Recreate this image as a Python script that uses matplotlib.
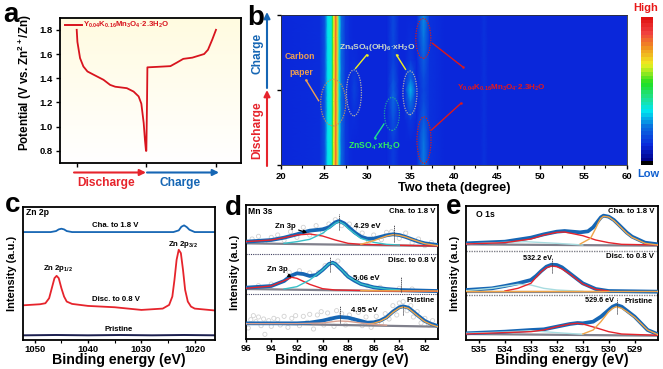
import matplotlib
matplotlib.use("Agg")
import matplotlib.pyplot as plt
import numpy as np
from matplotlib.colors import LinearSegmentedColormap
from matplotlib.patches import Ellipse

W, H = 663, 369
plt.rcParams['font.family'] = ['Liberation Sans', 'DejaVu Sans']
plt.rcParams['font.weight'] = 'bold'
plt.rcParams['axes.labelweight'] = 'bold'
plt.rcParams['mathtext.default'] = 'regular'

BLUE = '#1666b4'
RED = '#e6242c'
CYAN = '#38c0c8'
ORANGE = '#f0a548'
GREY = '#80808c'
TAN = '#d8a090'

# panel a
a_x = [0, .01, .048, .096, .154, .24, .385, .48, .553, .72, .817, .889, .928, .962, .98, .995, 1.0,
       1.01, 1.015, 1.154, 1.346, 1.44, 1.53, 1.66, 1.83, 1.885, 1.947, 2.0]
a_v = [1.8, 1.70, 1.566, 1.497, 1.456, 1.43, 1.387, 1.345, 1.33, 1.318, 1.29, 1.25, 1.19, 1.03, .89, .8, .8,
       1.22, 1.49, 1.494, 1.50, 1.53, 1.56, 1.57, 1.60, 1.635, 1.72, 1.8]
a_yticks = [0.8, 1.0, 1.2, 1.4, 1.6, 1.8]

# panel b
theta = [20, 24.5, 25.1, 25.4, 25.55, 25.85, 26.0, 26.15, 26.35, 26.54, 26.77, 27.0, 27.5, 28.0, 28.5, 29.2,
         32.3, 33.0, 33.7, 34.3, 35.0, 35.7, 36.5, 37.2, 38.0, 39.0, 43.0, 43.5, 44.0, 60]
base = [.12, .13, .2, .34, .37, .38, .52, .68, .85, .72, .38, .24, .15, .125, .12, .12,
        .12, .17, .12, .12, .12, .12, .2, .14, .13, .12, .12, .14, .12, .12]
row_y = [0, 0.3, 0.6, 0.85, 1.0, 1.15, 1.4, 1.7, 2.0]
band_285 = [.12, .12, .13, .16, .17, .16, .13, .12, .12]
band_330 = [.16, .16, .2, .24, .22, .2, .17, .18, .18]
band_350 = [.12, .12, .15, .26, .32, .24, .15, .13, .12]
band_365 = [.26, .26, .22, .19, .18, .19, .22, .26, .28]
b_colors = ['#000000', '#000080', '#0a28dc', '#0a70e0', '#00e8f0', '#20e090', '#20e020',
            '#f0f020', '#f09020', '#f04040', '#e01010']
b_stops = [0, .01, .12, .25, .36, .45, .55, .68, .8, .9, 1]

# panel c
c_cha_x = [1052, 1047, 1046, 1045.5, 1045, 1044.5, 1044, 1043, 1030, 1024, 1023, 1022.5, 1022, 1021.5, 1021, 1020, 1016]
c_cha = [323, 323, 326, 331, 333, 331, 326, 323, 323, 323, 328, 339, 343, 338, 330, 323, 323]
c_dis_x = [1052, 1049, 1048, 1047.3, 1046.8, 1046.3, 1045.9, 1045.5, 1045, 1044.5, 1044, 1043, 1040, 1035, 1030,
           1026, 1024.8, 1024.2, 1023.8, 1023.4, 1023, 1022.6, 1022.2, 1021.8, 1021.3, 1020.7, 1020, 1016]
c_dis = [104, 107, 110, 125, 155, 185, 192, 185, 155, 130, 115, 108, 102, 98, 90,
         94, 105, 130, 180, 240, 270, 260, 210, 150, 115, 100, 94, 88]
c_pri_x = [1052, 1046, 1040, 1034, 1028, 1022, 1016]
c_pri = [14, 15, 14, 15, 14, 15, 14]

# panel d, charged
d1_x = [96, 94, 93, 92, 91.5, 91, 90.5, 90, 89.5, 89.2, 89, 88.7, 88.3, 88, 87.5, 87, 86.5, 86, 85.5, 85, 84.5, 84, 83.5, 83, 82.5, 82, 81]
d1_sum = [292, 297, 304, 314, 320, 325, 327, 329, 335, 344, 350, 354, 347, 337, 320, 307, 301, 301, 306, 311, 314, 312, 306, 299, 292, 287, 282]
d1_red_x = [96, 94, 93, 92, 91, 90, 89, 88, 87, 85, 81]
d1_red = [292, 297, 304, 312, 315, 309, 297, 287, 284, 282, 279]
d1_cyan_x = [93, 92, 91, 90, 89.5, 89, 88.7, 88.3, 88, 87, 86, 85, 84]
d1_cyan = [287, 292, 299, 317, 332, 347, 352, 344, 332, 302, 290, 284, 282]
d1_or_x = [87, 86, 85, 84.5, 84, 83.5, 83, 82, 81]
d1_or = [284, 295, 309, 313, 311, 306, 299, 286, 280]
d1_bg = [287, 279]
d1_pts_x = [95.5, 95, 94.5, 94, 93.5, 93, 92.5, 92, 91.5, 91, 90.5, 90, 89.5, 89, 88.5, 87.9, 87.5, 86.9, 86.4, 86, 85.4, 85, 84.6, 84, 83.5, 83, 82.5, 82, 81.5]
d1_pts = [300, 308, 292, 305, 312, 296, 322, 305, 335, 312, 340, 322, 345, 358, 340, 345, 330, 318, 292, 312, 298, 320, 322, 302, 318, 288, 300, 280, 290]

# panel d, discharged
d2_x = [96, 94, 93, 92.5, 92, 91.5, 91, 90.5, 90, 89.5, 89.2, 89, 88.5, 88, 87.5, 87, 86, 85, 84, 82, 81]
d2_sum = [154, 159, 174, 189, 197, 195, 189, 192, 207, 225, 229, 225, 207, 187, 175, 165, 155, 150, 147, 145, 144]
d2_red_x = [96, 94, 93, 92.4, 92, 91, 90, 89, 85, 81]
d2_red = [152, 159, 175, 185, 182, 164, 151, 147, 144, 143]
d2_cyan_x = [93, 92, 91, 90, 89.5, 89.2, 89, 88.5, 88, 87, 86, 85, 84]
d2_cyan = [150, 157, 177, 207, 225, 229, 225, 207, 187, 165, 155, 150, 147]
d2_or_x = [87, 81]
d2_or = [145, 144]
d2_bg = [150, 142]
d2_pts_x = [95, 94, 92.6, 91.8, 91, 90.3, 89.8, 88.8, 88.2, 87.3, 86.5, 85.5, 84, 83]
d2_pts = [160, 165, 200, 205, 198, 200, 220, 234, 196, 180, 160, 155, 152, 150]

# panel d, pristine
d3_x = [96, 92, 91, 90, 89, 88.7, 88, 87.3, 86.5, 86, 85.5, 85, 84.5, 84, 83.7, 83.3, 83, 82.5, 82, 81.5, 81]
d3_sum = [47, 47, 49, 55, 64, 66, 64, 57, 49, 50, 55, 65, 82, 95, 98, 94, 85, 69, 54, 45, 39]
d3_or_x = [86.5, 86, 85.5, 85, 84.5, 84, 83.7, 83.3, 83, 82.5, 82, 81.5, 81]
d3_or = [45, 47, 53, 63, 80, 93, 96, 92, 83, 67, 52, 43, 37]
d3_tan_x = [96, 92, 90, 89, 88.7, 88, 87, 86, 85]
d3_tan = [46, 46, 48, 53, 54, 53, 48, 44, 41]
d3_bg = [47, 37]
d3_pts_x = [95.8, 95.6, 95.4, 95.2, 95.0, 94.8, 94.6, 94.5, 94.2, 94.0, 93.8, 93.5, 93.3, 93.0, 92.7, 92.4, 92.1, 91.8,
            91.5, 91.2, 91.0, 90.7, 90.4, 90.1, 89.9, 89.6, 89.4, 89.1, 88.9, 88.5, 88.2, 87.9, 87.6, 87.2, 86.9, 86.6,
            86.2, 85.8, 85.4, 85.1, 84.8, 84.5, 84.2, 84.0, 83.7, 83.4, 83.1, 82.9, 82.6, 82.3, 82.0, 81.7, 81.4]
d3_pts = [33, 58, 70, 52, 66, 40, 60, 14, 55, 38, 62, 58, 42, 68, 35, 62, 70, 40,
          68, 50, 74, 30, 72, 82, 42, 78, 60, 38, 85, 76, 42, 72, 58, 80, 40, 66,
          35, 68, 48, 76, 60, 100, 72, 108, 112, 85, 100, 66, 82, 48, 62, 42, 55]

# panel e, charged
e1_x = [535.5, 534, 533, 532.5, 532, 531.7, 531.1, 530.8, 530.6, 530.4, 530.3, 530.2, 530.0, 529.8, 529.6, 529.3, 529.1, 528.6, 528.1]
e1_sum = [290, 295, 307, 317, 325, 327, 323, 326, 338, 358, 368, 373, 370, 360, 345, 322, 310, 292, 287]
e1_red_x = [535.5, 534, 533, 532.5, 532, 531.7, 531, 530.5, 530, 529.5, 528.1]
e1_red = [288, 292, 303, 315, 323, 324, 313, 300, 292, 287, 285]
e1_or_x = [531.1, 530.7, 530.5, 530.4, 530.3, 530.2, 530, 529.8, 529.6, 529.3, 529.1, 528.6, 528.1]
e1_or = [288, 305, 335, 352, 365, 371, 369, 358, 343, 320, 308, 290, 285]
e1_cy_x = [535.5, 534, 533.2, 532.5, 532, 531]
e1_cy = [288, 293, 295, 292, 290, 285]
e1_bg = [287, 283]

# panel e, discharged
e2_x = [535.5, 534.5, 534, 533.5, 533, 532.8, 532.6, 532.4, 532.2, 532, 531.8, 531.5, 531, 530.5, 530, 528.1]
e2_sum = [150, 155, 162, 170, 180, 192, 207, 220, 226, 225, 218, 200, 170, 153, 147, 145]
e2_red_x = [534, 533.5, 533, 532.8, 532.6, 532.4, 532.2, 532, 531.8, 531.5, 531, 530.5, 530]
e2_red = [147, 155, 170, 188, 205, 217, 222, 220, 213, 198, 168, 152, 147]
e2_cy_x = [535.5, 534.5, 533.5, 533, 532.5, 532, 531]
e2_cy = [148, 155, 167, 165, 155, 150, 146]
e2_or = [147, 147]
e2_bg = [145, 145]

# panel e, pristine
e3_x = [535.5, 534, 533, 532.5, 532, 531.5, 531.2, 531, 530.6, 530.3, 530, 529.85, 529.7, 529.5, 529.3, 529, 528.5, 528.1]
e3_sum = [20, 25, 30, 32, 40, 48, 51, 50, 55, 70, 90, 100, 105, 100, 88, 70, 30, 17]
e3_red_x = [535.5, 533, 532.5, 532, 531.5, 531.2, 531, 530.5, 530, 529.5, 528.1]
e3_red = [18, 25, 30, 40, 48, 50, 48, 37, 25, 18, 14]
e3_or_x = [531, 530.6, 530.3, 530, 529.85, 529.7, 529.5, 529.3, 529, 528.5, 528.1]
e3_or = [18, 30, 55, 85, 95, 100, 95, 85, 68, 30, 16]
e3_cy_x = [535.5, 534, 533, 532, 531]
e3_cy = [20, 24, 28, 22, 17]
e3_bg = [18, 13]

fig = plt.figure(figsize=(W / 100, H / 100), dpi=100, facecolor='white')


def px_axes(l, t, r, b):
    ax = fig.add_axes([l / W, 1 - b / H, (r - l) / W, (b - t) / H])
    for s in ax.spines.values():
        s.set_linewidth(1.3)
    ax.tick_params(width=1, length=3, labelsize=6.8, pad=2)
    ax.tick_params(which='minor', width=.8, length=2)
    return ax


def fig_text(x, y, s, **kw):
    kw.setdefault('ha', 'center')
    kw.setdefault('va', 'center')
    fig.text(x / W, 1 - y / H, s, **kw)


def fig_arrow(x0, y0, x1, y1, color):
    fig.add_artist(plt.Annotation('', xy=(x1 / W, 1 - y1 / H), xytext=(x0 / W, 1 - y0 / H),
                                  xycoords='figure fraction', textcoords='figure fraction',
                                  arrowprops=dict(arrowstyle='-|>', color=color, lw=1.5, shrinkA=0, shrinkB=0,
                                                  mutation_scale=9)))


def dash(ax, x, i0, i1):
    ax.plot([x, x], [i0, i1], color='#404048', lw=.7, ls=(0, (1.2, .8)), zorder=6)


def xps(ax, x_sum, y_sum, parts, bg_x, bg):
    ax.plot(bg_x, bg, color=GREY, lw=1.6, zorder=2)
    ax.plot(x_sum, y_sum, color=BLUE, lw=2.7, zorder=3)
    for x, y, c in parts:
        ax.plot(x, y, color=c, lw=1.0, zorder=4)


def int_labels(ax, label_x, l, t, r, b):
    # label_x is the right edge of the rotated text, the x label top sits at y=353
    ax.tick_params(axis='x', length=2.5, pad=1)
    ax.set_xlabel('Binding energy (eV)', fontsize=10.2)
    ax.xaxis.set_label_coords(.5, (b - 353) / (b - t))
    ax.set_ylabel('Intensity (a.u.)', fontsize=7.9)
    ax.yaxis.set_label_coords((label_x - l) / (r - l), .5)


for lab, x, y in [('a', 3, 22), ('b', 247, 25), ('c', 5, 212), ('d', 225, 215), ('e', 446, 214)]:
    fig_text(x, y, lab, fontsize=20, color='black', ha='left', va='baseline')

# a
ax = px_axes(60, 17.7, 240.7, 163)
ax.imshow(np.linspace(0, 1, 60)[:, None], extent=[0, 1, 0, 1], transform=ax.transAxes, aspect='auto', zorder=0,
          cmap=LinearSegmentedColormap.from_list('bgfade', ['#fffbe0', '#ffffff']))
ax.plot(a_x, a_v, color='#d8141e', lw=1.3, zorder=3)
ax.set_xlim(-.24, 2.355)
ax.set_ylim(.70, 1.90)
ax.set_xticks([0, 1, 2])
ax.set_xticklabels([])
ax.set_yticks(a_yticks)
ax.set_yticklabels(['%.1f' % v for v in a_yticks])
ax.set_ylabel('Potential (V vs. Zn$^{2+}$/Zn)', fontsize=8.4)
ax.yaxis.set_label_coords((34 - 60) / 180.7, .55)
ax.plot([-.17, .08], [1.84, 1.84], color='#d8141e', lw=1.4, zorder=3)
ax.text(.09, 1.84, 'Y$_{0.04}$K$_{0.16}$Mn$_{3}$O$_{4}$·2.3H$_{2}$O', color='#d8141e', fontsize=5.6, va='center')
fig_arrow(74, 172.5, 146, 172.5, RED)
fig_arrow(147, 172.5, 219, 172.5, BLUE)
fig_text(106.5, 183, 'Discharge', color=RED, fontsize=8.6)
fig_text(180.5, 183, 'Charge', color=BLUE, fontsize=8.6)

# b
ax = px_axes(280.7, 14.7, 627, 165)
grid = np.tile(base, (len(row_y), 1))
grid[:, theta.index(28.5)] = band_285
grid[:, theta.index(33.0)] = band_330
grid[:, theta.index(35.0)] = band_350
grid[:, theta.index(36.5)] = band_365
cmap_b = LinearSegmentedColormap.from_list('xrd', list(zip(b_stops, b_colors)))
ax.pcolormesh(theta, row_y, grid, cmap=cmap_b, vmin=0, vmax=1, shading='gouraud')
ax.set_xlim(20, 60)
ax.set_ylim(0, 2)
ax.set_xticks(range(20, 61, 5))
ax.set_xticks(np.arange(22.5, 60, 5), minor=True)
ax.set_yticks([0, 1, 2])
ax.set_yticklabels([])
for s in ax.spines.values():
    s.set_linewidth(.6)
    s.set_color('#303030')
ax.set_xlabel('Two theta (degree)', fontsize=9.2, labelpad=1)
for cx, cy, w, h, c in [(36.47, 1.685, 1.73, .53, '#d02020'), (36.55, .33, 1.62, .62, '#d02020'),
                        (26.07, .83, 2.9, .62, '#b89060'), (28.46, .96, 1.73, .61, '#b0b0a8'),
                        (34.93, .96, 1.62, .58, '#b0b0a8'), (32.85, .68, 1.73, .44, '#20a0a0')]:
    ax.add_patch(Ellipse((cx, cy), w, h, fill=False, edgecolor=c, lw=.9, ls=(0, (1, 1))))
# leader lines, the dot sits on the label end
for x0, y0, x1, y1, c in [(28.65, 1.286, 29.92, 1.463, '#f0f020'), (34.42, 1.273, 33.38, 1.463, '#f0f020'),
                          (31.92, .545, 30.88, .364, '#20e090'), (24.38, .856, 22.92, 1.13, '#f0a050'),
                          (37.54, 1.619, 41.0, 1.308, '#e01818'), (37.42, .466, 40.81, .82, '#e01818')]:
    ax.plot([x0, x1], [y0, y1], color=c, lw=1)
    ax.plot([x1], [y1], 'o', color=c, ms=1.8, mew=0)
ax.text(22.23, 1.45, 'Carbon', color='#f0a050', fontsize=6.2, ha='center', va='center')
ax.text(22.35, 1.23, 'paper', color='#f0a050', fontsize=6.2, ha='center', va='center')
ax.text(31.19, 1.56, 'Zn$_4$SO$_4$(OH)$_6$·xH$_2$O', color='#d0dcc8', fontsize=6, ha='center', va='center')
ax.text(30.8, .25, 'ZnSO$_4$·xH$_2$O', color='#30f060', fontsize=6.2, ha='center', va='center')
ax.text(45.5, 1.03, 'Y$_{0.04}$K$_{0.16}$Mn$_{3}$O$_{4}$·2.3H$_{2}$O', color='#e81818', fontsize=5.8,
        ha='center', va='center')
fig_arrow(267, 88, 267, 12, BLUE)
fig_arrow(267, 166, 267, 90, RED)
fig_text(257, 53, 'Charge', color=BLUE, fontsize=8.6, rotation=90)
fig_text(257, 130, 'Discharge', color=RED, fontsize=8.6, rotation=90)

# colour bar of b
cax = fig.add_axes([641 / W, 1 - 165 / H, 12 / W, 148 / H])
cax.imshow(np.linspace(1, 0, 40)[:, None], cmap=cmap_b, vmin=0, vmax=1, aspect='auto')
cax.axis('off')
fig_text(646, 8, 'High', color='#e81818', fontsize=8)
fig_text(648, 174, 'Low', color='#1060d0', fontsize=8)

# c
ax = px_axes(23, 207, 215, 340)
ax.plot(c_cha_x, c_cha, color=BLUE, lw=1.3)
ax.plot(c_dis_x, c_dis, color=RED, lw=1.3)
ax.plot(c_pri_x, c_pri, color='#1c2050', lw=1.4)
ax.set_xlim(1052.2, 1016.2)
ax.set_ylim(0, 398)
ax.set_yticks([])
ax.set_xticks([1050, 1040, 1030, 1020])
ax.set_xticks([1045, 1035, 1025], minor=True)
int_labels(ax, 17, 23, 207, 215, 340)
ax.text(1051.7, 382, 'Zn 2p', fontsize=6.2, va='center')
ax.text(1035, 343, 'Cha. to 1.8 V', fontsize=5.6, ha='center', va='center')
ax.text(1034.8, 120, 'Disc. to 0.8 V', fontsize=5.6, ha='center', va='center')
ax.text(1034.2, 32, 'Pristine', fontsize=5.6, ha='center', va='center')
ax.text(1045.6, 213, 'Zn 2p$_{1/2}$', fontsize=5.6, ha='center', va='center')
ax.text(1022.1, 285, 'Zn 2p$_{3/2}$', fontsize=5.6, ha='center', va='center')

# d
ax = px_axes(245.7, 205, 437.7, 339)
ax.scatter(d1_pts_x + d2_pts_x + d3_pts_x, d1_pts + d2_pts + d3_pts, s=9, facecolors='none',
           edgecolors='#d2d2d2', linewidths=.6, zorder=1)
xps(ax, d1_x, d1_sum, [(d1_red_x, d1_red, RED), (d1_cyan_x, d1_cyan, CYAN), (d1_or_x, d1_or, ORANGE)], [96, 81], d1_bg)
xps(ax, d2_x, d2_sum, [(d2_red_x, d2_red, RED), (d2_cyan_x, d2_cyan, CYAN), (d2_or_x, d2_or, ORANGE)], [96, 81], d2_bg)
xps(ax, d3_x, d3_sum, [(d3_or_x, d3_or, ORANGE), (d3_tan_x, d3_tan, TAN)], [96, 81], d3_bg)
ax.set_xlim(96, 81)
ax.set_ylim(0, 402)
ax.set_yticks([])
ax.set_xticks(range(96, 81, -2))
int_labels(ax, 240.5, 245.7, 205, 437.7, 339)
ax.axhline(255, color='#404060', lw=.8, ls=(0, (1, 1)))
ax.axhline(135, color='#404060', lw=.8, ls=(0, (1, 1)))
ax.text(95.85, 381, 'Mn 3s', fontsize=6.2, va='center')
ax.text(81.15, 383, 'Cha. to 1.8 V', fontsize=5.6, ha='right', va='center')
ax.text(81.15, 234, 'Disc. to 0.8 V', fontsize=5.6, ha='right', va='center')
ax.text(81.25, 115, 'Pristine', fontsize=5.6, ha='right', va='center')
ax.text(86.5, 339, '4.29 eV', fontsize=5.6, ha='center', va='center')
ax.text(86.6, 180, '5.06 eV', fontsize=5.6, ha='center', va='center')
ax.text(86.7, 85, '4.95 eV', fontsize=5.6, ha='center', va='center')
for t_xy, a_xy in [((92.9, 339), (91.2, 319)), ((93.5, 209), (92.4, 185))]:
    ax.annotate('Zn 3p', xy=a_xy, xytext=t_xy, fontsize=5.6, ha='center', va='center', zorder=7,
                arrowprops=dict(arrowstyle='-|>', color='black', lw=.8, mutation_scale=5, shrinkA=0, shrinkB=0))
for x, i0, i1 in [(88.7, 327, 375), (84.4, 292, 342), (89.45, 202, 247), (83.9, 142, 185), (88.6, 49, 99), (83.7, 72, 99)]:
    dash(ax, x, i0, i1)

# e
ax = px_axes(466, 206, 658, 340)
xps(ax, e1_x, e1_sum, [(e1_cy_x, e1_cy, '#a8dce0'), (e1_red_x, e1_red, RED), (e1_or_x, e1_or, ORANGE)], [535.5, 528.1], e1_bg)
xps(ax, e2_x, e2_sum, [(e2_cy_x, e2_cy, '#a8dce0'), (e2_red_x, e2_red, RED), ([535.5, 528.1], e2_or, ORANGE)], [535.5, 528.1], e2_bg)
xps(ax, e3_x, e3_sum, [(e3_cy_x, e3_cy, '#a8dce0'), (e3_red_x, e3_red, RED), (e3_or_x, e3_or, ORANGE)], [535.5, 528.1], e3_bg)
ax.set_xlim(535.5, 528.1)
ax.set_ylim(0, 402)
ax.set_yticks([])
ax.set_xticks(range(535, 528, -1))
int_labels(ax, 460.5, 466, 206, 658, 340)
ax.axhline(268, color='#808088', lw=1, ls=(0, (1, .8)))
ax.axhline(135, color='#808088', lw=1, ls=(0, (1, .8)))
ax.text(535.1, 378, 'O 1s', fontsize=6.2, va='center')
ax.text(528.25, 385, 'Cha. to 1.8 V', fontsize=5.6, ha='right', va='center')
ax.text(528.25, 250, 'Disc. to 0.8 V', fontsize=5.6, ha='right', va='center')
ax.text(528.3, 116, 'Pristine', fontsize=5.6, ha='right', va='center')
ax.text(532.75, 246, '532.2 eV', fontsize=5.2, ha='center', va='center')
ax.text(530.35, 118, '529.6 eV', fontsize=5.2, ha='center', va='center')
dash(ax, 532.2, 200, 245)
dash(ax, 529.69, 78, 125)

fig.savefig('out.png', dpi=100, facecolor='white')
